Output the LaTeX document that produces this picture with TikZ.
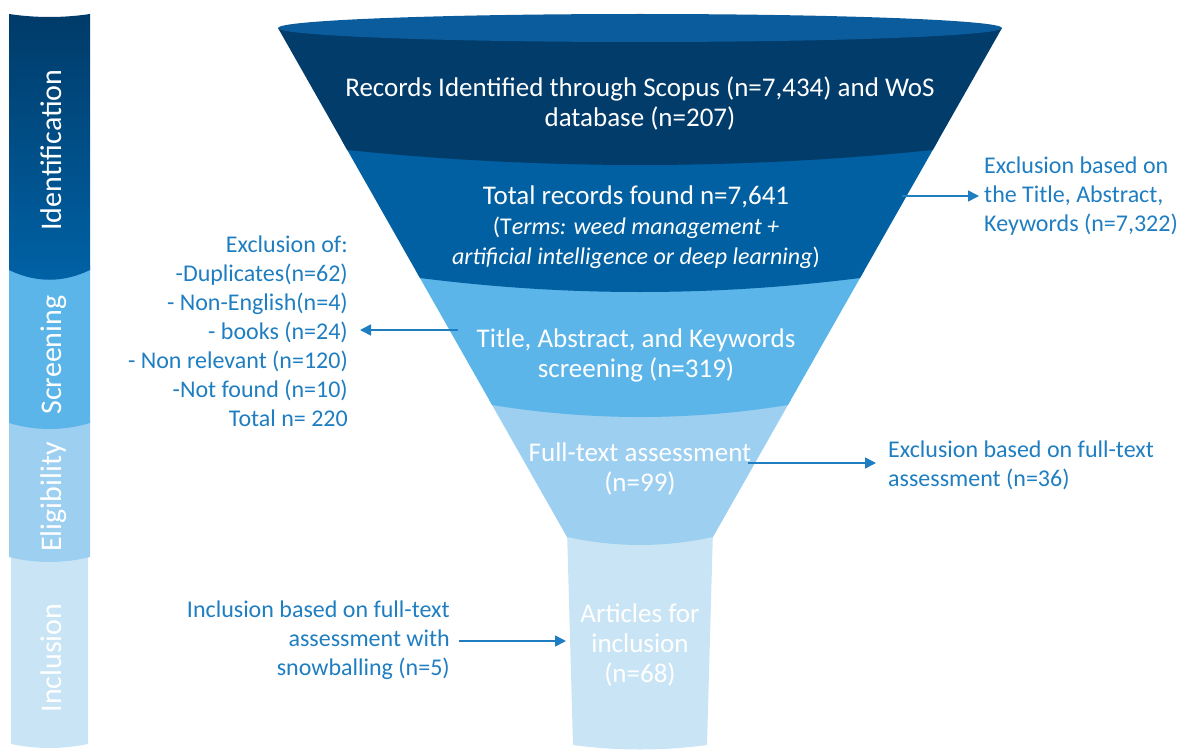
\documentclass[tikz,border=0pt]{standalone}
\usepackage{fontspec}
\setmainfont{Carlito}
\usetikzlibrary{arrows.meta}
\definecolor{bandA}{HTML}{023C6B}
\definecolor{topE}{HTML}{0A5C9C}
\definecolor{bandB}{HTML}{0060A1}
\definecolor{bandC}{HTML}{5CB5E9}
\definecolor{bandD}{HTML}{9DCFF1}
\definecolor{bandE}{HTML}{C9E5F5}
\definecolor{identTop}{HTML}{003B69}
\definecolor{identBot}{HTML}{0062A6}
\definecolor{sideblue}{HTML}{1F7EC1}
% funnel band: #1 top y, #2 bottom y (at edges), #3 sag, #4 fill options
\newcommand{\fband}[4]{%
 \pgfmathsetmacro\xLt{278+0.5678*(#1-28)}%
 \pgfmathsetmacro\xLb{278+0.5678*(#2-28)}%
 \pgfmathsetmacro\xRt{1280-\xLt}%
 \pgfmathsetmacro\xRb{1280-\xLb}%
 \pgfmathsetmacro\wb{\xRb-\xLb}%
 \pgfmathsetmacro\cy{#2+1.3333*#3}%
 \fill[#4] (\xLt,#1) -- (\xRt,#1) -- (\xRb,#2) .. controls (\xRb-\wb/3,\cy) and (\xLb+\wb/3,\cy) .. (\xLb,#2) -- cycle;}
% left bar section: #1 top y, #2 bottom y, #3 sag, #4 x left, #5 x right, #6 fill command
\newcommand{\lband}[6]{%
 \pgfmathsetmacro\cyb{#2+1.3333*#3}%
 \pgfmathsetmacro\wl{#5-#4}%
 #6 (#4,#1) -- (#5,#1) -- (#5,#2) .. controls (#5-\wl/3,\cyb) and (#4+\wl/3,\cyb) .. (#4,#2) -- cycle;}
\begin{document}
\begin{tikzpicture}[x=1pt,y=-1pt,
  ftext/.style={text=white, align=center, inner sep=0pt, font=\fontsize{27}{30}\selectfont},
  stext/.style={text=sideblue, inner sep=0pt, font=\fontsize{24}{29}\selectfont},
  ltext/.style={text=white, inner sep=0pt, rotate=90, anchor=base, font=\fontsize{30}{34}\selectfont},
  arr/.style={draw=sideblue, line width=1.6pt, -{Triangle[length=11pt,width=11pt]}}]
\useasboundingbox (0,0) rectangle (1184,752);
% ---------- left phase bar ----------
\lband{550}{744}{4}{11}{88}{\fill[bandE]}
\lband{420}{557}{5}{9}{90}{\fill[bandD]}
\lband{265}{423}{6}{9}{90}{\fill[bandC]}
\shade[top color=identTop, bottom color=identBot] (9,14) .. controls (36,18) and (63,18) .. (90,14) -- (90,270) .. controls (63,283) and (36,283) .. (9,270) -- cycle;
\node[ltext] (lid) at (61,150) {Identification};
\node[ltext] (lsc) at (61,355) {Screening};
\node[ltext] (lel) at (61,497) {Eligibility};
\node[ltext] (lin) at (61,658) {Inclusion};
% ---------- funnel ----------
\fill[bandE] (567,530) -- (713,530) -- (707,745) .. controls (664,751) and (616,751) .. (573,745) -- cycle;
\fband{400}{537}{8}{bandD}
\fband{270}{405}{12}{bandC}
\fband{140}{278}{14}{bandB}
\fband{28}{150}{15}{bandA}
\fill[topE] (640,28) ellipse [x radius=362, y radius=14];
% ---------- funnel texts ----------
\node[ftext] (rec) at (640,103) {Records Identified through Scopus (n=7,434) and WoS\\database (n=207)};
\node[ftext] (tot) at (636,227) {Total records found n=7,641\\{\fontsize{24}{30}\selectfont(T\textit{erms: weed management +}}\\{\fontsize{24}{30}\selectfont\textit{artificial intelligence or deep learning})}};
\node[ftext] (tit) at (636,355) {Title, Abstract, and Keywords\\screening (n=319)};
\node[ftext] (ful) at (640,469) {Full-text assessment\\(n=99)};
\node[ftext] (art) at (640,645) {Articles for\\inclusion\\(n=68)};
% ---------- side texts ----------
\node[stext, align=right, anchor=east] (exl) at (348,331) {Exclusion of:\\-Duplicates(n=62)\\- Non-English(n=4)\\- books (n=24)\\- Non relevant (n=120)\\-Not found (n=10)\\Total n= 220};
\node[stext, align=left, anchor=west] (exr) at (984,196) {Exclusion based on\\the Title, Abstract,\\Keywords (n=7,322)};
\node[stext, align=left, anchor=west] (exf) at (888,465) {Exclusion based on full-text\\assessment (n=36)};
\node[stext, align=right, anchor=east] (inc) at (450,640) {Inclusion based on full-text\\assessment with\\snowballing (n=5)};
% ---------- arrows ----------
\coordinate (s1) at (902,196);
\coordinate (s2) at (458,330);
\coordinate (s3) at (748,463);
\coordinate (s4) at (459,641);
\coordinate (e4) at (566,641);
\draw[arr, shorten >=5pt] (s1) -- (s1 -| exr.west);
\draw[arr, shorten >=12pt] (s2) -- (s2 -| exl.east);
\draw[arr, shorten >=12pt] (s3) -- (s3 -| exf.west);
\draw[arr] (s4) -- (e4);
\end{tikzpicture}
\end{document}
